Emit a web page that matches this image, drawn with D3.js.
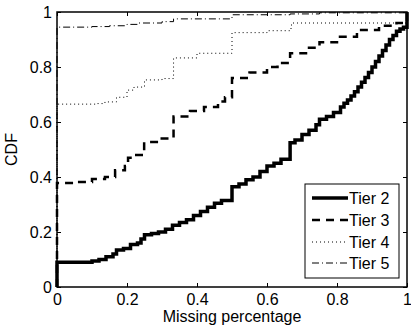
<!DOCTYPE html>
<html>
<head>
<meta charset="utf-8">
<script src="https://cdn.jsdelivr.net/npm/d3@7"></script>
<style>
  body { margin: 0; background: #fff; }
  svg { display: block; font-family: "Liberation Sans", Arial, sans-serif; }
</style>
</head>
<body>
<svg id="chart" width="411" height="327"></svg>
<script>
// cdf curves, [missing percentage, cdf]
const tier2 = [
  [0, 0], [0, 0.09], [0.086, 0.09], [0.10, 0.095], [0.12, 0.10], [0.14, 0.11],
  [0.16, 0.12], [0.17, 0.135], [0.19, 0.14], [0.21, 0.155], [0.23, 0.16],
  [0.24, 0.175], [0.25, 0.19], [0.27, 0.195], [0.29, 0.20], [0.31, 0.21],
  [0.33, 0.225], [0.35, 0.235], [0.37, 0.245], [0.39, 0.26], [0.41, 0.275],
  [0.43, 0.29], [0.45, 0.305], [0.47, 0.315], [0.50, 0.365], [0.52, 0.375],
  [0.54, 0.39], [0.56, 0.40], [0.58, 0.42], [0.60, 0.44], [0.62, 0.45],
  [0.64, 0.465], [0.666, 0.525], [0.68, 0.535], [0.70, 0.555], [0.72, 0.57],
  [0.74, 0.59], [0.75, 0.61], [0.77, 0.62], [0.79, 0.635], [0.81, 0.655],
  [0.82, 0.668], [0.83, 0.68], [0.84, 0.695], [0.85, 0.71], [0.86, 0.727],
  [0.87, 0.745], [0.88, 0.762], [0.89, 0.78], [0.90, 0.80], [0.91, 0.82],
  [0.92, 0.84], [0.93, 0.86], [0.94, 0.88], [0.95, 0.90], [0.96, 0.915],
  [0.97, 0.93], [0.98, 0.938], [0.99, 0.945], [1, 1]
];
const tier3 = [
  [0, 0], [0, 0.378], [0.05, 0.382], [0.10, 0.393], [0.137, 0.40], [0.166, 0.425],
  [0.194, 0.44], [0.203, 0.47], [0.22, 0.48], [0.249, 0.527], [0.29, 0.54],
  [0.333, 0.62], [0.38, 0.64], [0.42, 0.655], [0.46, 0.675], [0.48, 0.69],
  [0.50, 0.76], [0.55, 0.78], [0.60, 0.80], [0.63, 0.815], [0.666, 0.85],
  [0.72, 0.87], [0.75, 0.89], [0.80, 0.91], [0.857, 0.935], [0.92, 0.95],
  [0.97, 0.96], [1, 1]
];
const tier4 = [
  [0, 0], [0, 0.665], [0.11, 0.667], [0.137, 0.673], [0.17, 0.69], [0.20, 0.716],
  [0.22, 0.727], [0.25, 0.753], [0.30, 0.758], [0.333, 0.833], [0.40, 0.85],
  [0.50, 0.925], [0.60, 0.932], [0.666, 0.94], [0.67, 0.96], [1, 1]
];
const tier5 = [
  [0, 0], [0, 0.945], [0.10, 0.947], [0.15, 0.95], [0.20, 0.955], [0.23, 0.96],
  [0.30, 0.965], [0.333, 0.975], [0.50, 0.99], [0.666, 0.993], [0.75, 0.997],
  [1, 1]
];
const seriesNames = ["Tier 2", "Tier 3", "Tier 4", "Tier 5"];
const xTicks = [0, 0.2, 0.4, 0.6, 0.8, 1];
const yTicks = [0, 0.2, 0.4, 0.6, 0.8, 1];

const margin = { top: 12, right: 4, bottom: 40, left: 57 };
const width = 411 - margin.left - margin.right;
const height = 327 - margin.top - margin.bottom;

const styles = [
  { width: 3.5, dash: null },
  { width: 2.5, dash: "8,6" },
  { width: 1, dash: "1,3" },
  { width: 1, dash: "7,3,1,3" },
];

const svg = d3.select("#chart");
const g = svg.append("g")
  .attr("transform", `translate(${margin.left},${margin.top})`);

const x = d3.scaleLinear().domain([0, 1]).range([0, width]);
const y = d3.scaleLinear().domain([0, 1]).range([height, 0]);

const fmt = (d) => (d === 0 || d === 1 ? String(d) : d.toFixed(1));

// axes, ticks pointing inward on all four sides
g.append("g")
  .attr("transform", `translate(0,${height})`)
  .call(d3.axisBottom(x).tickValues(xTicks).tickFormat(fmt).tickSizeInner(-4).tickSizeOuter(0).tickPadding(7));
g.append("g")
  .call(d3.axisLeft(y).tickValues(yTicks).tickFormat(fmt).tickSizeInner(-4).tickSizeOuter(0).tickPadding(5));
g.append("g")
  .call(d3.axisTop(x).tickValues(xTicks).tickFormat("").tickSizeInner(-4).tickSizeOuter(0));
g.append("g")
  .attr("transform", `translate(${width},0)`)
  .call(d3.axisRight(y).tickValues(yTicks).tickFormat("").tickSizeInner(-4).tickSizeOuter(0));

g.selectAll(".domain").remove();
g.selectAll(".tick line").attr("stroke", "#000");
g.selectAll(".tick text")
  .attr("fill", "#000")
  .attr("font-size", 16)
  .attr("font-family", "'Liberation Sans', Arial, sans-serif");

const line = d3.line()
  .x((d) => x(d[0]))
  .y((d) => y(d[1]))
  .curve(d3.curveStepAfter);

[tier2, tier3, tier4, tier5].forEach((data, i) => {
  g.append("path")
    .datum(data)
    .attr("fill", "none")
    .attr("stroke", "#000")
    .attr("stroke-width", styles[i].width)
    .attr("stroke-dasharray", styles[i].dash)
    .attr("d", line);
});

g.append("rect")
  .attr("width", width)
  .attr("height", height)
  .attr("fill", "none")
  .attr("stroke", "#000")
  .attr("stroke-width", 1.5);

// legend
const legend = svg.append("g").attr("transform", "translate(305,184)");
legend.append("rect")
  .attr("width", 94)
  .attr("height", 94)
  .attr("fill", "#fff")
  .attr("stroke", "#000")
  .attr("stroke-width", 1);

const rowY = [14, 36, 58, 79];
seriesNames.forEach((name, i) => {
  legend.append("line")
    .attr("x1", 7)
    .attr("x2", 43)
    .attr("y1", rowY[i])
    .attr("y2", rowY[i])
    .attr("stroke", "#000")
    .attr("stroke-width", styles[i].width)
    .attr("stroke-dasharray", styles[i].dash);
  legend.append("text")
    .attr("x", 44)
    .attr("y", rowY[i])
    .attr("dy", "0.35em")
    .attr("font-size", 16)
    .text(name);
});

svg.append("text")
  .attr("x", margin.left + width / 2)
  .attr("y", 322)
  .attr("text-anchor", "middle")
  .attr("font-size", 16)
  .text("Missing percentage");

svg.append("text")
  .attr("transform", `translate(17,${margin.top + height / 2}) rotate(-90)`)
  .attr("text-anchor", "middle")
  .attr("font-size", 16)
  .text("CDF");
</script>
</body>
</html>
